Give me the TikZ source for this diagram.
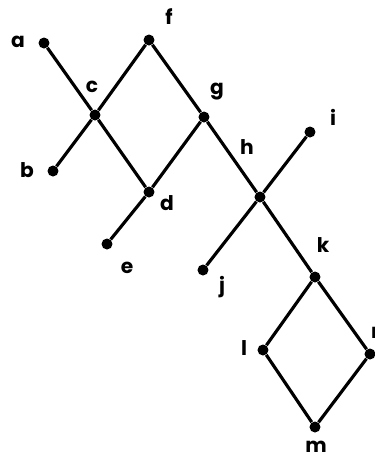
\documentclass[tikz,border=0pt]{standalone}
\usepackage{fontspec}
\setmainfont{Poppins}
\begin{document}
\begin{tikzpicture}[x=0.02cm,y=-0.02cm,
        vertex/.style={circle,fill=black,inner sep=0pt,minimum size=0.22cm},
        lbl/.style={font=\fontsize{11.5}{13}\selectfont\bfseries,inner sep=1pt},
        edge/.style={line width=1.8pt}]
        \useasboundingbox (0,0) rectangle (375,458);
        \clip (0,0) rectangle (375,458);
        % vertices
        \node[vertex] (a) at (44,43) {};
        \node[vertex] (f) at (149,40) {};
        \node[vertex] (c) at (95,115) {};
        \node[vertex] (b) at (53,171) {};
        \node[vertex] (d) at (149,192) {};
        \node[vertex] (e) at (107,244) {};
        \node[vertex] (g) at (204,117) {};
        \node[vertex] (h) at (260,197) {};
        \node[vertex] (i) at (310,132) {};
        \node[vertex] (j) at (203,270) {};
        \node[vertex] (k) at (315,277) {};
        \node[vertex] (l) at (263,350) {};
        \node[vertex] (n) at (370,354) {};
        \node[vertex] (m) at (315,427) {};
        % labels
        \node[lbl] (la) at (18,42) {a};
        \node[lbl] (lf) at (169,17) {f};
        \node[lbl] (lc) at (92,87) {c};
        \node[lbl] (lb) at (27,170) {b};
        \node[lbl] (ld) at (167,203) {d};
        \node[lbl] (le) at (127,268) {e};
        \node[lbl] (lg) at (217,92) {g};
        \node[lbl] (lh) at (247,147) {h};
        \node[lbl] (li) at (333,117) {i};
        \node[lbl] (lj) at (222,287) {j};
        \node[lbl] (lk) at (323,245) {k};
        \node[lbl] (ll) at (244,348) {l};
        \node[lbl] (ln) at (378,333) {n};
        \node[lbl] (lm) at (316,447) {m};
        % edges
        \draw[edge] (a) -- (c) -- (d) -- (e);
        \draw[edge] (b) -- (c) -- (f) -- (g) -- (d);
        \draw[edge] (g) -- (h) -- (i);
        \draw[edge] (j) -- (h) -- (k);
        \draw[edge] (k) -- (l) -- (m) -- (n) -- (k);
    \end{tikzpicture}
\end{document}
